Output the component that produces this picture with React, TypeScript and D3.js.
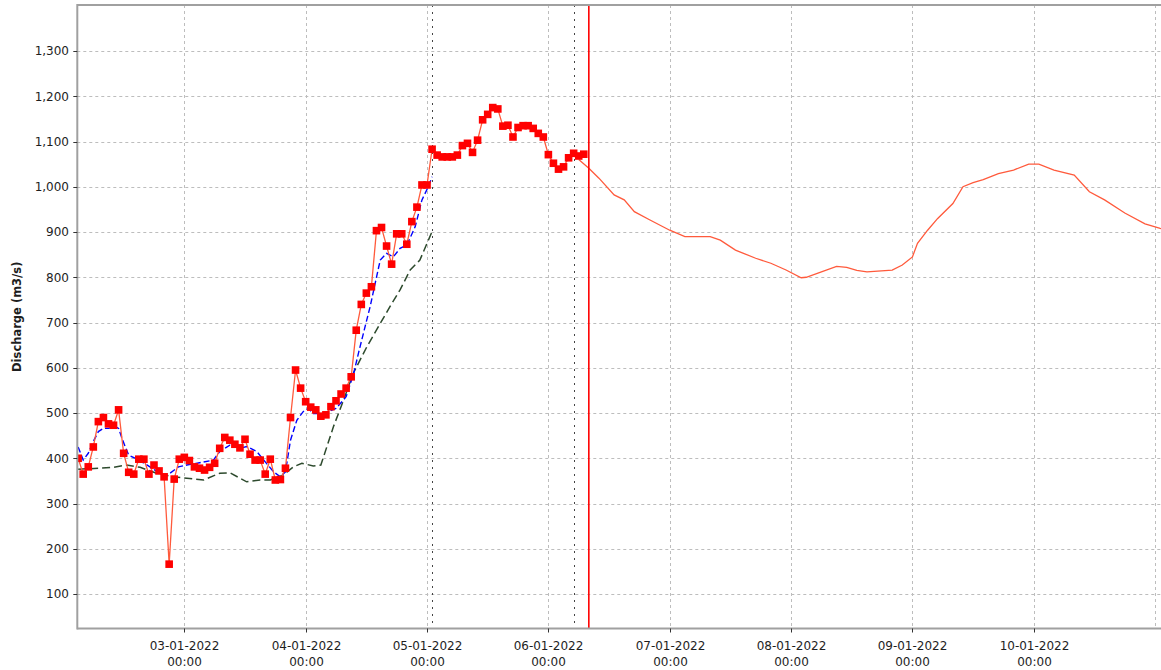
import React from "react";
import * as d3 from "d3";

const W = 1161;
const H = 670;

// Observed discharge, hourly from obsStart
const obsStart = "2022-01-02T03:00";
const observed = [
  400, 365, 381, 425, 481, 490, 476, 473, 507, 411,
  369, 365, 398, 398, 365, 385, 372, 359, 166, 354,
  398, 402, 395, 381, 378, 374, 380, 389, 422, 446,
  440, 431, 423, 442, 409, 396, 396, 365, 398, 352,
  353, 378, 490, 595, 555, 525, 513, 507, 493, 496,
  514, 527, 542, 555, 580, 683, 740, 765, 779, 903,
  910, 869, 829, 896, 896, 873, 923, 955, 1004, 1004,
  1083, 1070, 1066, 1066, 1066, 1070, 1091, 1096, 1076, 1103,
  1148, 1160, 1175, 1172, 1134, 1136, 1110, 1131, 1135, 1135,
  1129, 1118, 1110, 1071, 1052, 1039, 1044, 1064, 1074, 1068,
  1072,
];

const blueSim: [string, number][] = [
  ["2022-01-02T03:00", 425], ["2022-01-02T04:00", 396], ["2022-01-02T05:00", 411],
  ["2022-01-02T06:00", 437], ["2022-01-02T07:00", 459], ["2022-01-02T08:00", 466],
  ["2022-01-02T09:00", 466], ["2022-01-02T10:20", 470], ["2022-01-02T11:00", 466],
  ["2022-01-02T11:40", 444], ["2022-01-02T12:20", 425], ["2022-01-02T13:00", 407],
  ["2022-01-02T15:00", 396], ["2022-01-02T16:40", 385], ["2022-01-02T18:10", 374],
  ["2022-01-02T19:50", 363], ["2022-01-02T21:10", 367], ["2022-01-02T22:50", 381],
  ["2022-01-03T00:30", 385], ["2022-01-03T03:00", 390], ["2022-01-03T05:45", 396],
  ["2022-01-03T07:00", 415], ["2022-01-03T09:00", 429], ["2022-01-03T11:00", 422],
  ["2022-01-03T12:20", 426], ["2022-01-03T14:20", 415], ["2022-01-03T16:00", 392],
  ["2022-01-03T17:40", 370], ["2022-01-03T19:00", 359], ["2022-01-03T20:00", 370],
  ["2022-01-03T21:00", 440], ["2022-01-03T22:15", 484], ["2022-01-03T23:30", 503],
  ["2022-01-04T00:30", 510], ["2022-01-04T01:30", 499], ["2022-01-04T03:30", 499],
  ["2022-01-04T06:00", 510], ["2022-01-04T08:00", 536], ["2022-01-04T09:30", 588],
  ["2022-01-04T10:30", 635], ["2022-01-04T11:45", 691], ["2022-01-04T12:45", 735],
  ["2022-01-04T13:45", 787], ["2022-01-04T14:45", 838], ["2022-01-04T16:00", 853],
  ["2022-01-04T17:20", 845], ["2022-01-04T18:40", 864], ["2022-01-04T20:00", 871],
  ["2022-01-04T21:40", 912], ["2022-01-04T23:00", 971], ["2022-01-05T00:15", 1000],
  ["2022-01-05T01:00", 1022],
];

const greenSim: [string, number][] = [
  ["2022-01-02T03:00", 376], ["2022-01-02T07:20", 378], ["2022-01-02T10:00", 380],
  ["2022-01-02T12:35", 385], ["2022-01-02T15:15", 380], ["2022-01-02T18:30", 367],
  ["2022-01-02T21:50", 359], ["2022-01-03T00:30", 356], ["2022-01-03T03:50", 352],
  ["2022-01-03T07:00", 367], ["2022-01-03T09:00", 368], ["2022-01-03T12:20", 348],
  ["2022-01-03T15:00", 352], ["2022-01-03T17:00", 352], ["2022-01-03T19:35", 363],
  ["2022-01-03T21:35", 381], ["2022-01-03T23:15", 389], ["2022-01-04T01:30", 383],
  ["2022-01-04T03:00", 385], ["2022-01-04T05:30", 470], ["2022-01-04T07:30", 529],
  ["2022-01-04T09:25", 588], ["2022-01-04T12:05", 646], ["2022-01-04T14:45", 698],
  ["2022-01-04T16:40", 735], ["2022-01-04T18:40", 772], ["2022-01-04T20:40", 816],
  ["2022-01-04T22:35", 838], ["2022-01-05T00:00", 875], ["2022-01-05T01:00", 901],
];

const forecast: [string, number][] = [
  ["2022-01-06T06:00", 1060], ["2022-01-06T08:00", 1041], ["2022-01-06T10:00", 1019],
  ["2022-01-06T13:00", 982], ["2022-01-06T15:00", 971], ["2022-01-06T17:00", 945],
  ["2022-01-06T20:00", 927], ["2022-01-07T00:00", 904], ["2022-01-07T03:00", 890],
  ["2022-01-07T08:00", 890], ["2022-01-07T10:00", 882], ["2022-01-07T13:00", 860],
  ["2022-01-07T17:00", 842], ["2022-01-07T20:00", 831], ["2022-01-07T23:00", 816],
  ["2022-01-08T02:00", 799], ["2022-01-08T03:00", 800], ["2022-01-08T06:00", 812],
  ["2022-01-08T09:00", 824], ["2022-01-08T11:00", 822], ["2022-01-08T13:00", 815],
  ["2022-01-08T15:00", 812], ["2022-01-08T20:00", 816], ["2022-01-08T22:00", 827],
  ["2022-01-09T00:00", 845], ["2022-01-09T01:00", 875], ["2022-01-09T03:00", 904],
  ["2022-01-09T05:00", 930], ["2022-01-09T08:00", 963], ["2022-01-09T10:00", 1000],
  ["2022-01-09T12:00", 1009], ["2022-01-09T14:00", 1016], ["2022-01-09T17:00", 1029],
  ["2022-01-09T20:00", 1037], ["2022-01-09T23:00", 1050], ["2022-01-10T01:00", 1050],
  ["2022-01-10T04:00", 1037], ["2022-01-10T08:00", 1026], ["2022-01-10T11:00", 989],
  ["2022-01-10T14:00", 971], ["2022-01-10T18:00", 942], ["2022-01-10T22:00", 918],
  ["2022-01-11T01:00", 908], ["2022-01-11T03:00", 903],
];

const yTicks = [100, 200, 300, 400, 500, 600, 700, 800, 900, 1000, 1100, 1200, 1300];
const xLabelDays = [
  "2022-01-03T00:00", "2022-01-04T00:00", "2022-01-05T00:00", "2022-01-06T00:00",
  "2022-01-07T00:00", "2022-01-08T00:00", "2022-01-09T00:00", "2022-01-10T00:00",
];
const gridDays = [...xLabelDays, "2022-01-11T00:00"];
const dottedMarks = ["2022-01-05T01:00", "2022-01-06T05:00"];
const nowMark = "2022-01-06T08:00";
const yLabel = "Discharge (m3/s)";

const parse = d3.timeParse("%Y-%m-%dT%H:%M") as (s: string) => Date;
const fmtDate = d3.timeFormat("%d-%m-%Y");
const fmtTime = d3.timeFormat("%H:%M");
const fmtY = d3.format(",");

const M = { left: 77.3, top: 5, bottom: 628.5, right: 1170.3 };

export default function App() {
  const x = d3
    .scaleTime()
    .domain([parse("2022-01-02T02:50"), parse("2022-01-11T03:00")])
    .range([M.left, M.right]);
  const y = d3.scaleLinear().domain([23.8, 1401.7]).range([M.bottom, M.top]);

  const start = parse(obsStart);
  const obsPts: [Date, number][] = observed.map((v, i) => [d3.timeHour.offset(start, i), v]);
  const toPts = (a: [string, number][]) => a.map(([t, v]) => [parse(t), v] as [Date, number]);

  const line = d3
    .line<[Date, number]>()
    .x((d) => x(d[0]))
    .y((d) => y(d[1]));

  const font = "'DejaVu Sans', Verdana, sans-serif";
  const textColor = "#1e1e1e";
  const ms = 7.6;

  return (
    <svg
      width={W}
      height={H}
      style={{ position: "absolute", left: 0, top: 0, background: "#fff" }}
    >
      <defs>
        <clipPath id="plot">
          <rect x={M.left} y={M.top} width={M.right - M.left} height={M.bottom - M.top} />
        </clipPath>
      </defs>
      <rect width={W} height={H} fill="#fff" />

      {/* grid */}
      <g stroke="#bdbdbd" strokeWidth={1} strokeDasharray="3,3" fill="none">
        {yTicks.map((t) => (
          <line key={t} x1={M.left} x2={W} y1={Math.round(y(t)) + 0.5} y2={Math.round(y(t)) + 0.5} />
        ))}
        {gridDays.map((d) => {
          const xx = Math.round(x(parse(d))) + 0.5;
          return <line key={d} x1={xx} x2={xx} y1={M.top} y2={M.bottom} />;
        })}
      </g>

      {/* dotted event markers */}
      <g stroke="#444" strokeWidth={1} strokeDasharray="2,5">
        {dottedMarks.map((d) => {
          const xx = Math.round(x(parse(d))) + 0.5;
          return <line key={d} x1={xx} x2={xx} y1={M.top} y2={M.bottom} />;
        })}
      </g>

      <g clipPath="url(#plot)" fill="none">
        <path d={line(toPts(greenSim)) || ""} stroke="#2d4a2d" strokeWidth={1.5} strokeDasharray="8,4" />
        <path d={line(toPts(blueSim)) || ""} stroke="#0000ff" strokeWidth={1.4} strokeDasharray="6,3" />
        <path d={line(obsPts) || ""} stroke="#ff5a3c" strokeWidth={1.3} />
        <path d={line(toPts(forecast)) || ""} stroke="#ff5a3c" strokeWidth={1.3} />
        {obsPts.map((d, i) => (
          <rect
            key={i}
            x={x(d[0]) - ms / 2}
            y={y(d[1]) - ms / 2}
            width={ms}
            height={ms}
            fill="#ff0000"
          />
        ))}
      </g>

      {/* now line */}
      <line
        x1={x(parse(nowMark))}
        x2={x(parse(nowMark))}
        y1={M.top}
        y2={M.bottom}
        stroke="#ff0000"
        strokeWidth={1.6}
      />

      {/* axes frame */}
      <line x1={M.left} x2={W} y1={M.top} y2={M.top} stroke="#a0a0a0" strokeWidth={2} />
      <line x1={M.left} x2={M.left} y1={M.top - 1} y2={M.bottom + 1} stroke="#a0a0a0" strokeWidth={2} />
      <line x1={M.left} x2={W} y1={M.bottom} y2={M.bottom} stroke="#a0a0a0" strokeWidth={2} />

      {/* y ticks */}
      <g fontFamily={font} fontSize={12} fill={textColor}>
        {yTicks.map((t) => (
          <g key={t}>
            <line x1={M.left - 4} x2={M.left} y1={Math.round(y(t)) + 0.5} y2={Math.round(y(t)) + 0.5} stroke="#333" />
            <text x={69} y={y(t)} dy="0.36em" textAnchor="end">
              {fmtY(t)}
            </text>
          </g>
        ))}
      </g>

      {/* x ticks */}
      <g fontFamily={font} fontSize={12} fill={textColor} textAnchor="middle">
        {xLabelDays.map((d) => {
          const dt = parse(d);
          const xx = Math.round(x(dt)) + 0.5;
          return (
            <g key={d}>
              <line x1={xx} x2={xx} y1={M.bottom} y2={M.bottom + 4} stroke="#333" />
              <text x={xx} y={650}>{fmtDate(dt)}</text>
              <text x={xx} y={666}>{fmtTime(dt)}</text>
            </g>
          );
        })}
      </g>

      <text
        transform={`translate(21, ${(M.top + M.bottom) / 2}) rotate(-90)`}
        textAnchor="middle"
        fontFamily={font}
        fontSize={11.5}
        fontWeight="bold"
        fill={textColor}
      >
        {yLabel}
      </text>
    </svg>
  );
}
